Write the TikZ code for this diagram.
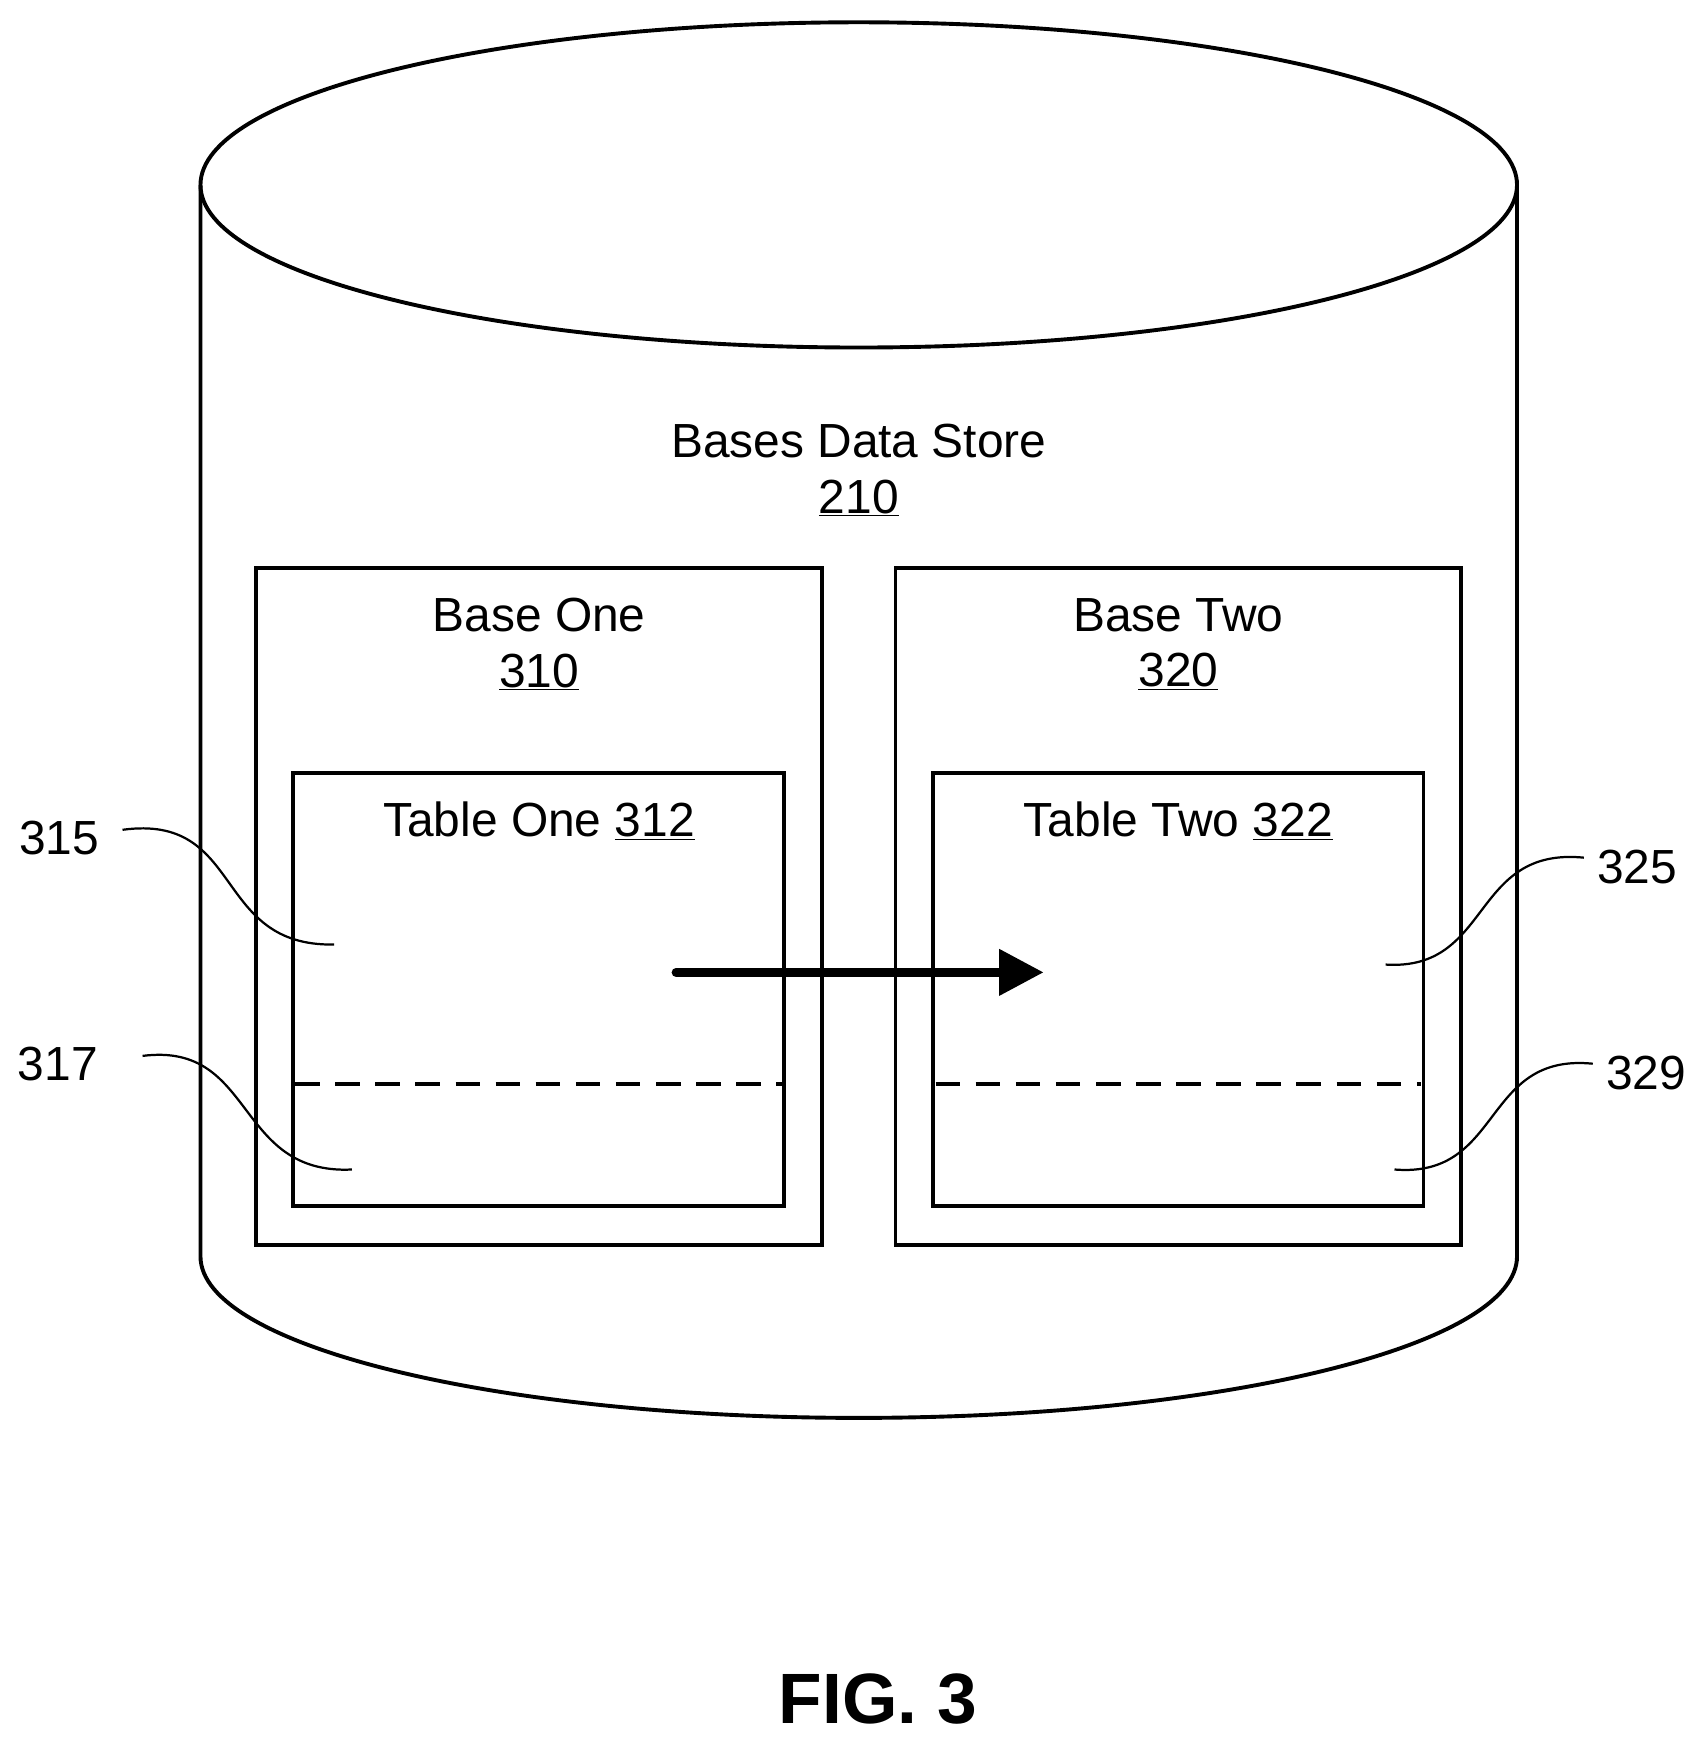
\documentclass[tikz,border=0pt]{standalone}
\usepackage{fontspec}
\setmainfont{Liberation Sans}
\usetikzlibrary{arrows.meta}
\begin{document}
\begin{tikzpicture}[x=1pt,y=-1pt,line width=3.5pt,
  lbl/.style={font=\fontsize{43}{48}\selectfont,inner sep=0pt},
  box/.style={draw,line width=3.5pt},
  lead/.style={line width=2pt}]
\useasboundingbox (0,0) rectangle (1530,1564);
% cylinder
\draw (180,166) -- (180,1128) arc[start angle=180,end angle=0,x radius=591,y radius=145] -- (1362,166);
\draw (771,166) ellipse[x radius=591,y radius=146];
\node[lbl,align=center] (ds) at (771,422) {Bases Data Store\\[2pt]\underline{210}};
\draw[box] (230,510) rectangle (738,1118);
\draw[box] (804,510) rectangle (1312,1118);
\node[lbl,align=center] (b1) at (484,578) {Base One\\[2pt]\underline{310}};
\node[lbl,align=center] (b2) at (1058,578) {Base Two\\[2pt]\underline{320}};
\draw[box] (263,694) rectangle (704,1083);
\draw[box] (838,694) rectangle (1278,1083);
\node[lbl] (t1) at (484,737) {Table One \underline{312}};
\node[lbl] (t2) at (1058,737) {Table Two \underline{322}};
\draw[line width=3.5pt,dash pattern=on 22pt off 14pt] (265,973) -- (702,973);
\draw[line width=3.5pt,dash pattern=on 22pt off 14pt] (840,973) -- (1276,973);
\coordinate (a1) at (607,873); \coordinate (a2) at (937,873);
\draw[line width=8pt,line cap=round,-{Triangle[length=40pt,width=40pt]}] (a1) -- (a2);
% leaders
\node[lbl] (n315) at (53,752) {315};
\node[lbl] (n317) at (52,955) {317};
\node[lbl] (n325) at (1470,778) {325};
\node[lbl] (n329) at (1478,963) {329};
\coordinate (p315) at (300,848); \coordinate (p317) at (316,1050);
\coordinate (p325) at (1244,866); \coordinate (p329) at (1252,1050);
\draw[lead] (110,745) .. controls (220,730) and (190,850) .. (p315);
\draw[lead] (128,948) .. controls (230,935) and (210,1055) .. (p317);
\draw[lead] (1422,770) .. controls (1320,760) and (1340,872) .. (p325);
\draw[lead] (1430,955) .. controls (1330,945) and (1350,1058) .. (p329);
\node[font=\bfseries\fontsize{64}{70}\selectfont,inner sep=0pt] (fig) at (788,1525) {FIG. 3};
\end{tikzpicture}
\end{document}
